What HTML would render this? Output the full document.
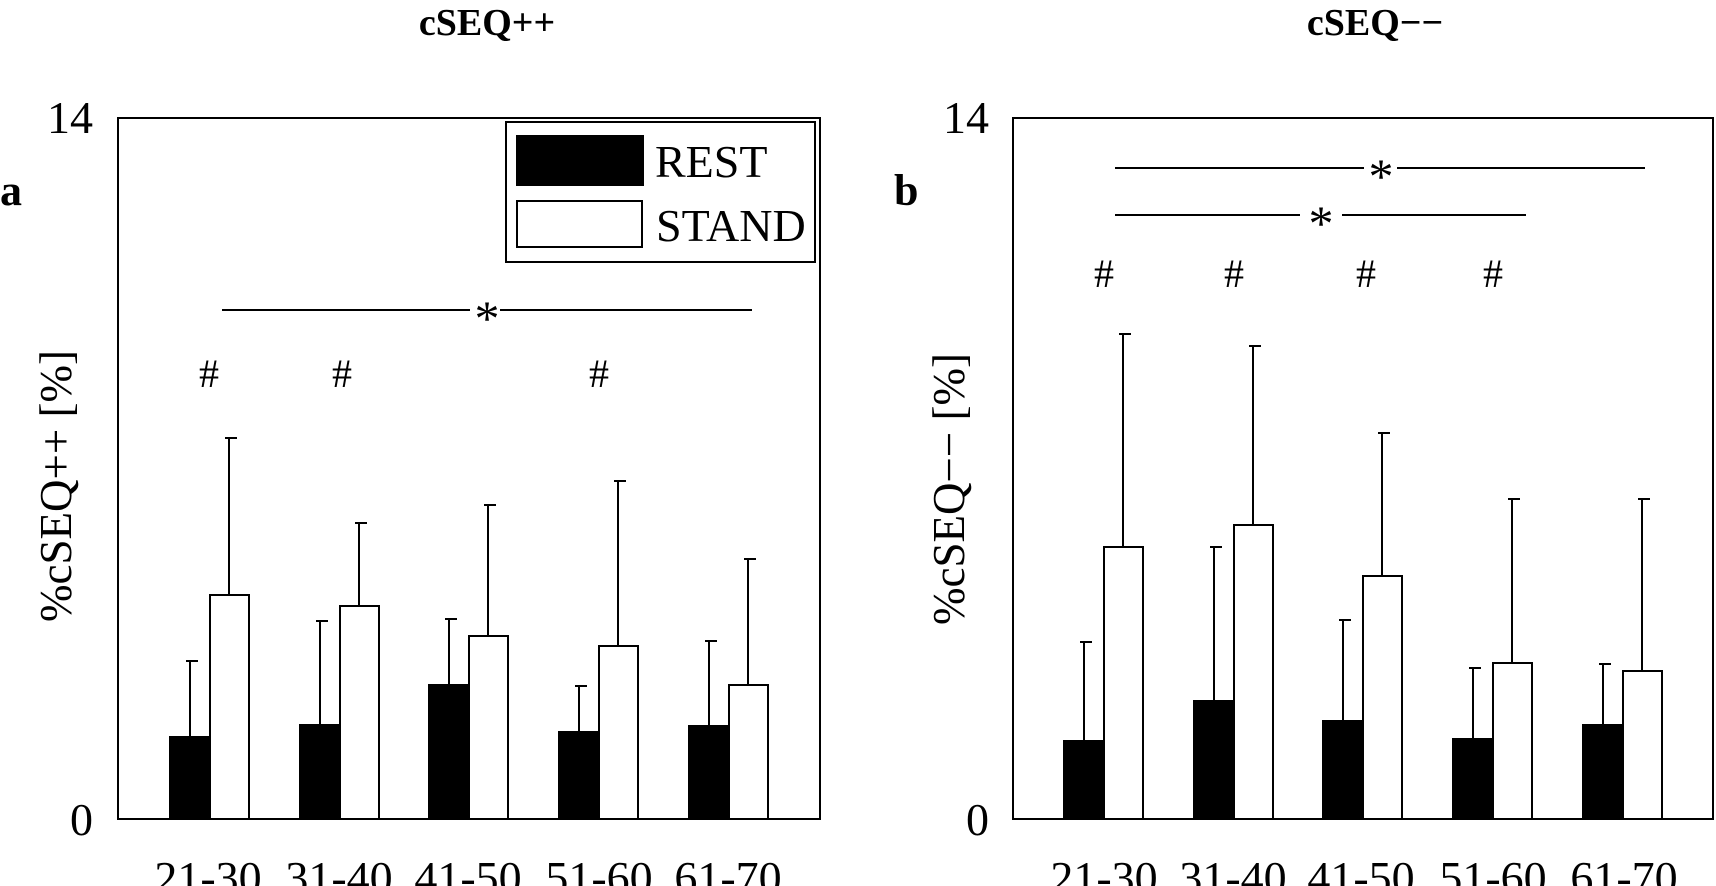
<!DOCTYPE html>
<html><head><meta charset="utf-8"><style>
html,body{margin:0;padding:0;background:#fff;}
svg{display:block;}
text{font-family:"Liberation Serif",serif;fill:#000;}
</style></head><body>
<svg width="1716" height="886" viewBox="0 0 1716 886" xmlns="http://www.w3.org/2000/svg">
<g stroke="#000" stroke-width="2" fill="none">
<rect x="118" y="118" width="702" height="701"/>
<rect x="1013" y="118" width="700" height="701"/>
</g>
<text x="487" y="35" font-size="38" font-weight="bold" text-anchor="middle">cSEQ++</text>
<text x="1375" y="35" font-size="38" font-weight="bold" text-anchor="middle">cSEQ−−</text>
<text x="0" y="205" font-size="44" font-weight="bold">a</text>
<text x="894" y="205" font-size="44" font-weight="bold">b</text>
<text x="93" y="133" font-size="46" text-anchor="end">14</text>
<text x="93" y="835" font-size="46" text-anchor="end">0</text>
<text x="989" y="133" font-size="46" text-anchor="end">14</text>
<text x="989" y="835" font-size="46" text-anchor="end">0</text>
<text transform="translate(71,486) rotate(-90)" font-size="45" text-anchor="middle">%cSEQ++ [%]</text>
<text transform="translate(964,489) rotate(-90)" font-size="45" text-anchor="middle">%cSEQ−− [%]</text>
<g font-size="46" text-anchor="middle">
<text x="208" y="893">21-30</text><text x="339" y="893">31-40</text><text x="468" y="893">41-50</text><text x="599" y="893">51-60</text><text x="728" y="893">61-70</text>
<text x="1104" y="893">21-30</text><text x="1233" y="893">31-40</text><text x="1361" y="893">41-50</text><text x="1493" y="893">51-60</text><text x="1624" y="893">61-70</text>
</g>
<g stroke="#000" stroke-width="2">
<rect x="506" y="122" width="309" height="140" fill="#fff"/>
<rect x="517" y="136" width="126" height="49" fill="#000"/>
<rect x="517" y="201" width="125" height="46" fill="#fff"/>
</g>
<text x="655" y="177" font-size="46">REST</text>
<text x="656" y="241" font-size="46">STAND</text>
<g stroke="#000" stroke-width="2">
<line x1="190" y1="737" x2="190" y2="661"/><line x1="186" y1="661" x2="198" y2="661"/>
<line x1="229" y1="595" x2="229" y2="438"/><line x1="225" y1="438" x2="237" y2="438"/>
<line x1="320" y1="725" x2="320" y2="621"/><line x1="316" y1="621" x2="328" y2="621"/>
<line x1="359" y1="606" x2="359" y2="523"/><line x1="355" y1="523" x2="367" y2="523"/>
<line x1="449" y1="685" x2="449" y2="619"/><line x1="445" y1="619" x2="457" y2="619"/>
<line x1="488" y1="636" x2="488" y2="505"/><line x1="484" y1="505" x2="496" y2="505"/>
<line x1="579" y1="732" x2="579" y2="686"/><line x1="575" y1="686" x2="587" y2="686"/>
<line x1="618" y1="646" x2="618" y2="481"/><line x1="614" y1="481" x2="626" y2="481"/>
<line x1="709" y1="726" x2="709" y2="641"/><line x1="705" y1="641" x2="717" y2="641"/>
<line x1="748" y1="685" x2="748" y2="559"/><line x1="744" y1="559" x2="756" y2="559"/>

<rect x="170" y="737" width="40" height="82" fill="#000"/><rect x="210" y="595" width="39" height="224" fill="#fff"/>
<rect x="300" y="725" width="40" height="94" fill="#000"/><rect x="340" y="606" width="39" height="213" fill="#fff"/>
<rect x="429" y="685" width="40" height="134" fill="#000"/><rect x="469" y="636" width="39" height="183" fill="#fff"/>
<rect x="559" y="732" width="40" height="87" fill="#000"/><rect x="599" y="646" width="39" height="173" fill="#fff"/>
<rect x="689" y="726" width="40" height="93" fill="#000"/><rect x="729" y="685" width="39" height="134" fill="#fff"/>

<line x1="1084" y1="741" x2="1084" y2="642"/><line x1="1080" y1="642" x2="1092" y2="642"/>
<line x1="1123" y1="547" x2="1123" y2="334"/><line x1="1119" y1="334" x2="1131" y2="334"/>
<line x1="1214" y1="701" x2="1214" y2="547"/><line x1="1210" y1="547" x2="1222" y2="547"/>
<line x1="1253" y1="525" x2="1253" y2="346"/><line x1="1249" y1="346" x2="1261" y2="346"/>
<line x1="1343" y1="721" x2="1343" y2="620"/><line x1="1339" y1="620" x2="1351" y2="620"/>
<line x1="1382" y1="576" x2="1382" y2="433"/><line x1="1378" y1="433" x2="1390" y2="433"/>
<line x1="1473" y1="739" x2="1473" y2="668"/><line x1="1469" y1="668" x2="1481" y2="668"/>
<line x1="1512" y1="663" x2="1512" y2="499"/><line x1="1508" y1="499" x2="1520" y2="499"/>
<line x1="1603" y1="725" x2="1603" y2="664"/><line x1="1599" y1="664" x2="1611" y2="664"/>
<line x1="1642" y1="671" x2="1642" y2="499"/><line x1="1638" y1="499" x2="1650" y2="499"/>

<rect x="1064" y="741" width="40" height="78" fill="#000"/><rect x="1104" y="547" width="39" height="272" fill="#fff"/>
<rect x="1194" y="701" width="40" height="118" fill="#000"/><rect x="1234" y="525" width="39" height="294" fill="#fff"/>
<rect x="1323" y="721" width="40" height="98" fill="#000"/><rect x="1363" y="576" width="39" height="243" fill="#fff"/>
<rect x="1453" y="739" width="40" height="80" fill="#000"/><rect x="1493" y="663" width="39" height="156" fill="#fff"/>
<rect x="1583" y="725" width="40" height="94" fill="#000"/><rect x="1623" y="671" width="39" height="148" fill="#fff"/>

<line x1="222" y1="310" x2="470" y2="310"/><line x1="500" y1="310" x2="752" y2="310"/>
<line x1="1115" y1="168" x2="1364" y2="168"/><line x1="1397" y1="168" x2="1645" y2="168"/>
<line x1="1115" y1="215" x2="1300" y2="215"/><line x1="1342" y1="215" x2="1526" y2="215"/>
</g>
<g font-size="50" text-anchor="middle">
<text x="487" y="335">*</text>
<text x="1381" y="193">*</text>
<text x="1321" y="240">*</text>
</g>
<g font-size="40" text-anchor="middle">
<text x="209" y="387">#</text><text x="342" y="387">#</text><text x="599" y="387">#</text>
<text x="1104" y="287">#</text><text x="1234" y="287">#</text><text x="1366" y="287">#</text><text x="1493" y="287">#</text>
</g>
</svg>
</body></html>
